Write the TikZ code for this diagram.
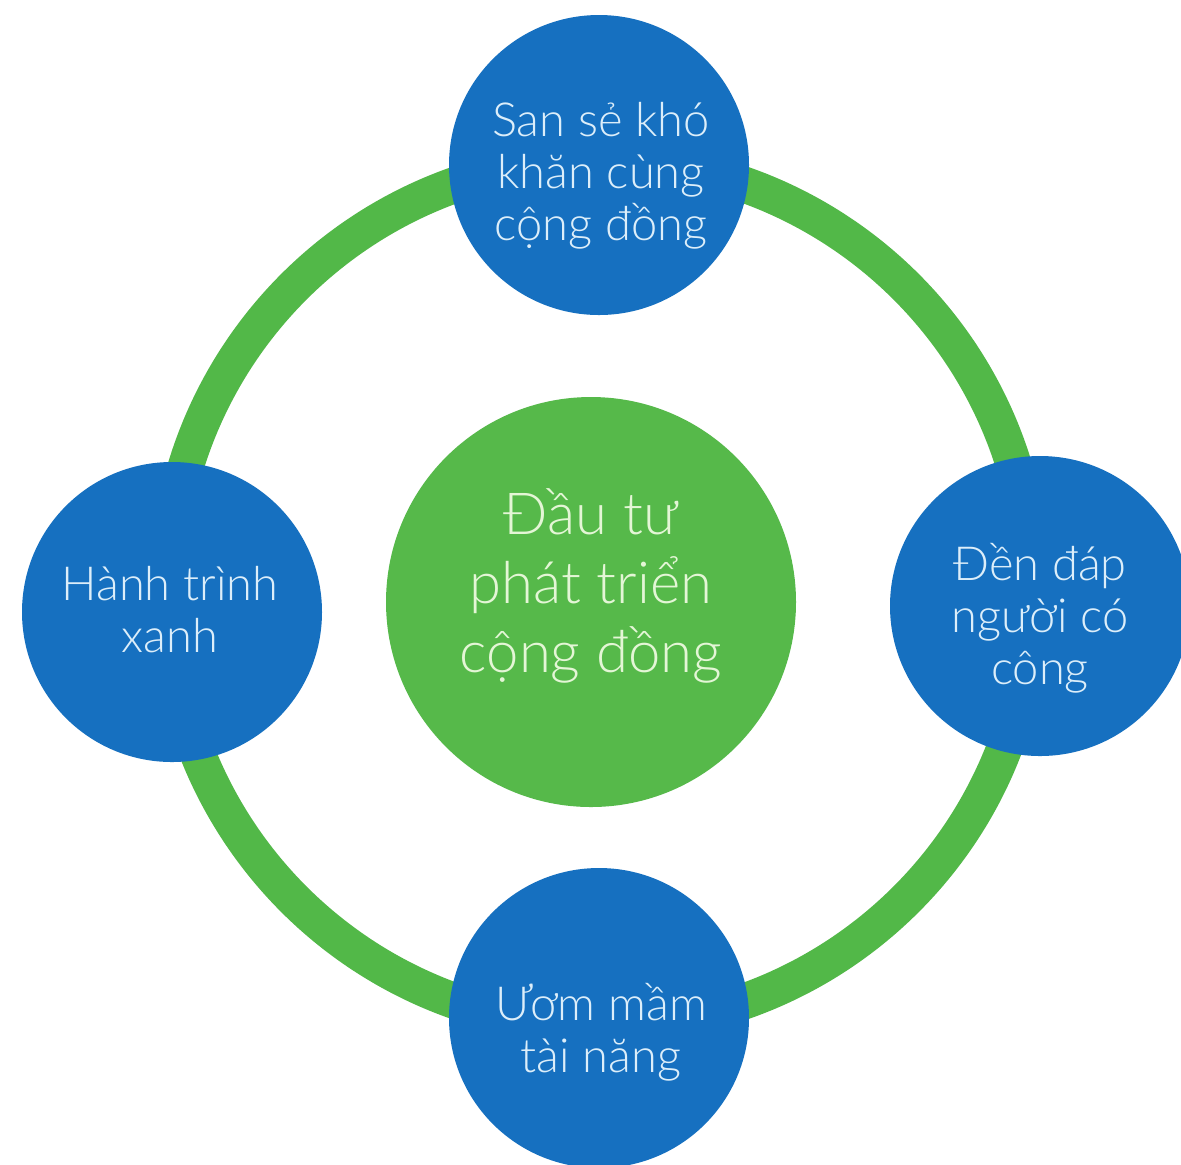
\documentclass[tikz,border=0pt]{standalone}
\usepackage{fontspec}
\setmainfont{Lato Light}
\definecolor{ringgreen}{RGB}{82,184,72}
\definecolor{hubgreen}{RGB}{86,185,74}
\definecolor{petalblue}{RGB}{22,112,192}
\definecolor{petaltext}{RGB}{220,238,250}
\definecolor{hubtext}{RGB}{228,246,214}
\begin{document}
\begin{tikzpicture}[x=0.5pt,y=-0.5pt,
  petal/.style={circle, fill=petalblue, draw=none, minimum size=150pt, inner sep=0pt},
  petaltxt/.style={align=center, text=petaltext, font=\fontsize{23.5}{26}\selectfont, inner sep=0pt},
  hub/.style={circle, fill=hubgreen, draw=none, minimum size=205pt, inner sep=0pt},
  hubtxt/.style={align=center, text=hubtext, font=\fontsize{29}{34.5}\selectfont, inner sep=0pt},
  ring/.style={draw=ringgreen, line width=18pt}]
\useasboundingbox (0,0) rectangle (1181,1164);
\clip (0,0) rectangle (1181,1164);
\fill[white] (0,0) rectangle (1181,1164);
\coordinate (rc) at (600,593);
\draw[ring] (rc) circle [radius=216.5pt];
\node[hub] (hub) at (591,602) {};
\node[hubtxt] (hubt) at (591,586) {Đầu tư\\phát triển\\cộng đồng};
\node[petal] (top) at (599,165) {};
\node[petaltxt] (topt) at (601,176) {San sẻ khó\\khăn cùng\\cộng đồng};
\node[petal] (left) at (172,612) {};
\node[petaltxt] (leftt) at (170,610) {Hành trình\\xanh};
\node[petal] (right) at (1040,606) {};
\node[petaltxt] (rightt) at (1040,618) {Đền đáp\\người có\\công};
\node[petal] (bottom) at (599,1018) {};
\node[petaltxt] (bottomt) at (601,1032) {Ươm mầm\\tài năng};
\end{tikzpicture}
\end{document}
